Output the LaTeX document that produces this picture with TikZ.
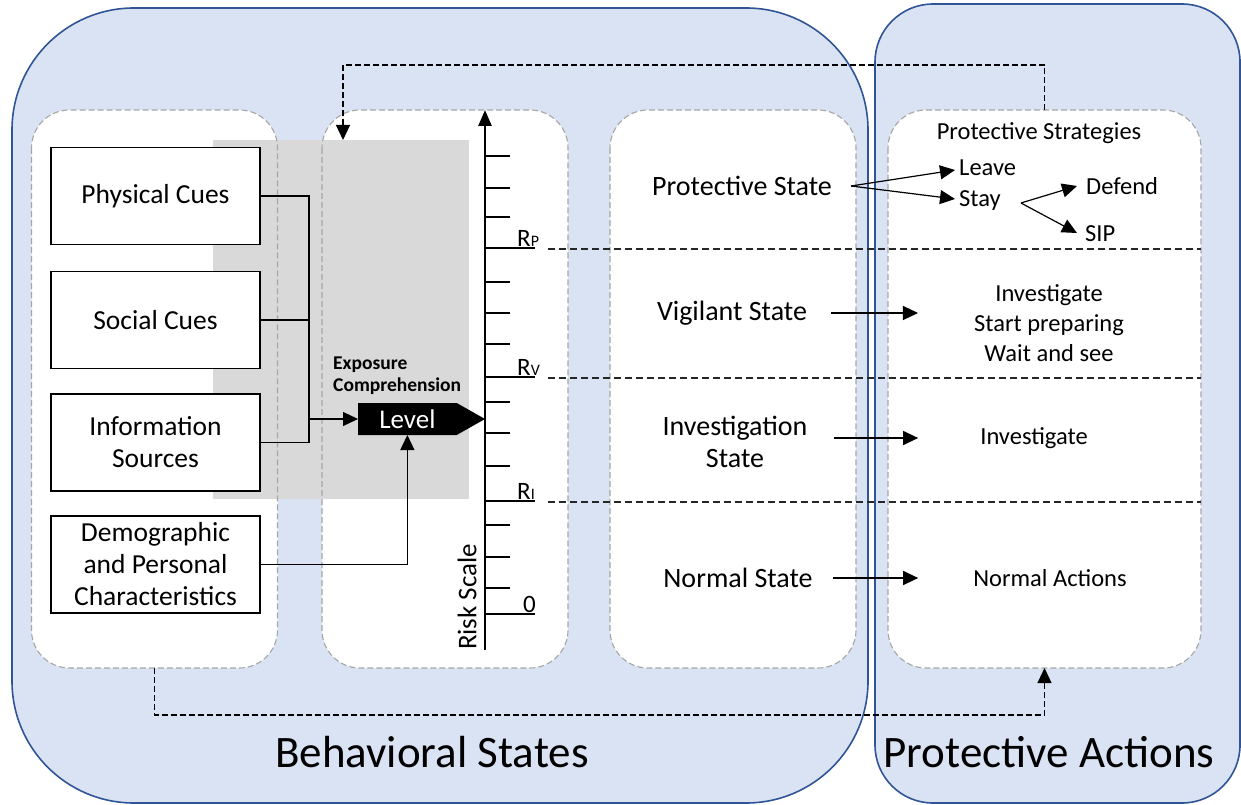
\documentclass[tikz,border=0pt]{standalone}
\usepackage{fontspec}
\setmainfont{Carlito}
\usetikzlibrary{arrows.meta,shapes.symbols,calc}

\definecolor{panelblue}{HTML}{DAE3F3}
\definecolor{paneledge}{HTML}{2F5597}
\definecolor{shadegray}{HTML}{D9D9D9}
\definecolor{laneline}{HTML}{A6A6A6}

\begin{document}
\begin{tikzpicture}[x=1pt,y=-1pt,
  panel/.style={fill=panelblue, draw=paneledge, line width=1.6pt, rounded corners=#1},
  lanefill/.style={fill=white, rounded corners=38pt, minimum width=246pt, minimum height=558pt, inner sep=0pt, outer sep=0pt},
  laneedge/.style={draw=laneline, dash pattern=on 6pt off 3pt, line width=1.1pt, rounded corners=38pt},
  cue/.style={draw=black, line width=1.8pt, fill=white, minimum width=209pt, minimum height=97pt, inner sep=2pt, align=center, font=\fontsize{27.5}{32}\selectfont},
  lbl/.style={font=\fontsize{28}{32}\selectfont, align=center, inner sep=2pt},
  act/.style={font=\fontsize{24.5}{30}\selectfont, align=center, inner sep=2pt},
  title/.style={font=\fontsize{45}{50}\selectfont, inner sep=0pt},
  head/.style={-{Triangle[length=15pt,width=14pt]}},
  tri/.style={line width=1.2pt, head},
  feedback/.style={line width=1.1pt, dash pattern=on 6pt off 3pt},
  levelline/.style={line width=1.1pt, dash pattern=on 7pt off 4pt, black!85},
  wire/.style={line width=1.2pt},
  tick/.style={line width=2pt},
  rlabel/.style={font=\fontsize{25}{28}\selectfont, inner sep=0pt, anchor=south west}
]
\useasboundingbox (0,0) rectangle (1241,805);

% outer panels
\draw[panel=122pt] (12,8) rectangle (868,803);
\draw[panel=58pt] (875,4) rectangle (1240,803);

% lane backgrounds
\node[lanefill] (cuelane)   at (154.5,389) {};
\node[lanefill] (scalelane) at (445,389) {};
\node[lanefill] (statelane) at (733,389) {};
\node[lanefill, minimum width=313pt] (stratlane) at (1044.5,389) {};

% shaded perception zone
\node[fill=shadegray, minimum width=256pt, minimum height=359pt, inner sep=0pt, outer sep=0pt] (shade) at (341,319.5) {};

% lane outlines
\foreach \l in {cuelane,scalelane,statelane,stratlane}
  \draw[laneedge] (\l.north west) rectangle (\l.south east);

% cue boxes
\node[cue] (phys) at (155.5,196) {Physical Cues};
\node[cue] (soc)  at (155.5,320) {Social Cues};
\node[cue] (info) at (155.5,442.5) {Information\\Sources};
\node[cue] (demo) at (155.5,564.5) {Demographic\\and Personal\\Characteristics};

% level marker
\node[signal, signal to=east, signal pointer angle=59, fill=black, text=white,
      minimum width=127pt, minimum height=32pt, inner sep=0pt, outer sep=0pt,
      anchor=west, font=\fontsize{27}{28}\selectfont] (level) at (358,419) {Level\hspace{8pt}};
\node[anchor=west, align=left, inner sep=0pt, font=\bfseries\fontsize{19.5}{22}\selectfont] (exptext) at (333,376) {Exposure\\Comprehension};

% cue wiring
\coordinate (bus) at (309,419);
\draw[wire] (phys.east) -| (bus);
\draw[wire] (soc.east) -| (bus);
\draw[wire] (info.east) -| (bus);
\draw[tri] (bus) -- (level.west);
\draw[tri] (demo.east) -| (level.south);

% risk scale axis
\coordinate (axbot) at (485,650);
\coordinate (axtop) at (485,110);
\draw[line width=2.6pt, -{Triangle[length=16pt,width=13pt]}] (axbot) -- (axtop);
\foreach \y in {156,188,217,282,313,344,402,433,466,525,557,588}
  \draw[tick] (485,\y) -- ++(25,0);
\foreach \y in {248,377,501,614}
  \draw[tick] (485,\y) -- ++(50,0);
\node[rlabel] (rp) at (517,247) {R\fontsize{16}{16}\selectfont P};
\node[rlabel] (rv) at (517,376) {R\fontsize{16}{16}\selectfont V};
\node[rlabel] (ri) at (517,500) {R\fontsize{16}{16}\selectfont I};
\node[rlabel] (zero) at (523,613) {0};
\node[rotate=90, font=\fontsize{27}{28}\selectfont, inner sep=0pt] (risk) at (467,597) {Risk Scale};

% threshold lines
\foreach \y in {249,378,502}
  \draw[levelline] (548,\y) -- (1201,\y);

% behavioural states
\node[lbl] (pstate) at (742,186) {Protective State};
\node[lbl] (vstate) at (732,313) {Vigilant State};
\node[lbl] (istate) at (735,442) {Investigation\\State};
\node[lbl] (nstate) at (738,578) {Normal State};

% protective actions
\node[act] (strat) at (1039,133) {Protective Strategies};
\node[act, anchor=west] (leave) at (957,168) {Leave};
\node[act, anchor=west] (stay) at (957,201) {Stay};
\node[act, anchor=west] (defend) at (1084,186) {Defend};
\node[act, anchor=west] (sip) at (1083,234) {SIP};
\node[act] (vact) at (1049,323) {Investigate\\Start preparing\\Wait and see};
\node[act] (iact) at (1034,438) {Investigate};
\node[act] (nact) at (1050,578) {Normal Actions};

% branching from the protective state
\coordinate (fork) at ($(pstate.east)+(17,0)$);
\draw[tri] (fork) -- ([xshift=-2pt,yshift=-2pt]leave.west);
\draw[tri] (fork) -- ([xshift=-2pt,yshift=2pt]stay.west);
\coordinate (stayfork) at ($(stay.east)+(18,2)$);
\draw[tri] (stayfork) -- ([xshift=-7pt]defend.west);
\draw[tri] (stayfork) -- ([xshift=-6pt,yshift=1pt]sip.west);

% state to action arrows
\draw[tri] ($(vstate.east)+(22,0)$) -- ($(vstate.east -| vact.west)+(-54,0)$);
\draw[tri] ($(istate.east)+(24,-4)$) -- ($(istate.east -| iact.west)+(-60,-4)$);
\draw[tri] ($(nstate.east)+(18,0)$) -- ($(nstate.east -| nact.west)+(-53,0)$);

% feedback loops
\coordinate (fbin) at (343,140);
\draw[feedback, head] (stratlane.north) -- ++(0,-45) -| (fbin);
\draw[feedback, head] (cuelane.south) -- ++(0,47) -| (stratlane.south);

% panel titles
\node[title] (bstitle) at (432,752) {Behavioral States};
\node[title] (patitle) at (1049,752) {Protective Actions};
\end{tikzpicture}
\end{document}
